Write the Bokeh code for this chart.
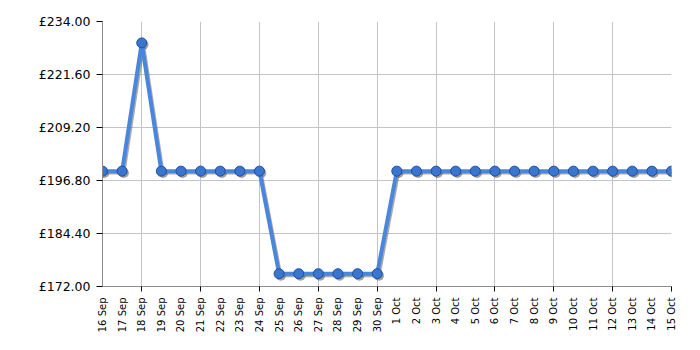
from bokeh.plotting import figure
from bokeh.models import Range1d, FixedTicker, ColumnDataSource
from bokeh.embed import file_html
from bokeh.resources import INLINE

dates = ["16 Sep", "17 Sep", "18 Sep", "19 Sep", "20 Sep", "21 Sep", "22 Sep", "23 Sep",
         "24 Sep", "25 Sep", "26 Sep", "27 Sep", "28 Sep", "29 Sep", "30 Sep",
         "1 Oct", "2 Oct", "3 Oct", "4 Oct", "5 Oct", "6 Oct", "7 Oct", "8 Oct",
         "9 Oct", "10 Oct", "11 Oct", "12 Oct", "13 Oct", "14 Oct", "15 Oct"]
prices = [198.99, 198.99, 228.99, 198.99, 198.99, 198.99, 198.99, 198.99,
          198.99, 174.99, 174.99, 174.99, 174.99, 174.99, 174.99,
          198.99, 198.99, 198.99, 198.99, 198.99, 198.99, 198.99, 198.99,
          198.99, 198.99, 198.99, 198.99, 198.99, 198.99, 198.99]
y_ticks = [172.0, 184.4, 196.8, 209.2, 221.6, 234.0]

idx = list(range(len(dates)))
src = ColumnDataSource(dict(x=idx, y=prices))
shadow = ColumnDataSource(dict(x=[i + 0.09 for i in idx], y=[v - 0.45 for v in prices]))

p = figure(width=700, height=350, output_backend="svg", toolbar_location=None,
           x_range=Range1d(0, len(dates) - 1), y_range=Range1d(y_ticks[0], y_ticks[-1]),
           min_border_left=102, min_border_right=29, min_border_top=21, min_border_bottom=64)
p.outline_line_color = None
p.background_fill_color = "white"

# axes
p.xaxis.ticker = FixedTicker(ticks=idx, minor_ticks=idx[2::3])
p.xaxis.major_label_overrides = {i: d for i, d in enumerate(dates)}
p.xaxis.major_label_orientation = 3.14159265 / 2
p.xaxis.major_tick_out = 0
p.xaxis.major_tick_in = 0
p.xaxis.minor_tick_out = 5
p.xaxis.minor_tick_in = 0
p.xaxis.minor_tick_line_color = "black"
p.xaxis.axis_line_color = "#8c8c8c"
p.xaxis.major_label_text_font = "DejaVu Sans"
p.xaxis.major_label_text_font_size = "10px"
p.xaxis.major_label_text_color = "black"
p.xaxis.major_label_standoff = 6

p.yaxis.ticker = FixedTicker(ticks=y_ticks, minor_ticks=[])
p.yaxis.major_label_overrides = {t: "£%.2f" % t for t in y_ticks}
p.yaxis.major_tick_out = 6
p.yaxis.major_tick_in = 0
p.yaxis.major_tick_line_color = "black"
p.yaxis.axis_line_color = "#8c8c8c"
p.yaxis.major_label_text_font = "DejaVu Sans"
p.yaxis.major_label_text_font_size = "12.5px"
p.yaxis.major_label_text_color = "black"
p.yaxis.major_label_standoff = 6

p.xgrid.ticker = FixedTicker(ticks=idx[2::3])
p.ygrid.ticker = FixedTicker(ticks=y_ticks)
p.xgrid.grid_line_color = "#c4c4c4"
p.ygrid.grid_line_color = "#c4c4c4"

# shadow
p.line("x", "y", source=shadow, line_color="#555555", line_width=3, line_alpha=0.5)
p.scatter("x", "y", source=shadow, size=10, fill_color="#444444", line_color=None, fill_alpha=0.5)
# series
p.line("x", "y", source=src, line_color="#4a86dc", line_width=4)
p.scatter("x", "y", source=src, size=10, fill_color="#3a76d0", line_color="#1d4f9c", line_width=1)

open("out.html", "w").write(file_html(p, INLINE))
